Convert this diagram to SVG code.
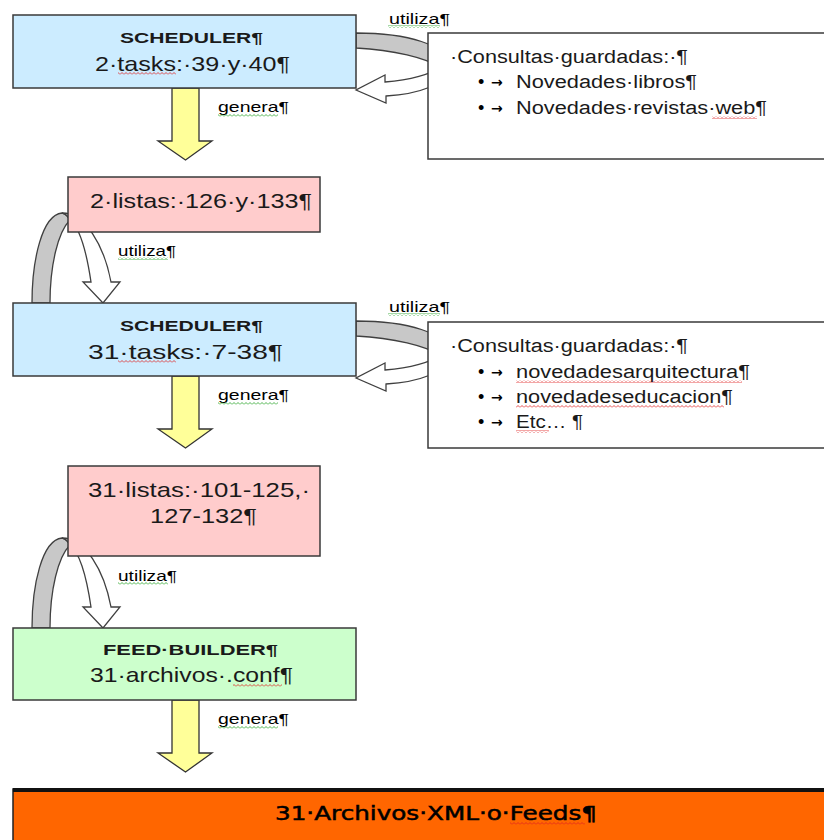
<svg xmlns="http://www.w3.org/2000/svg" width="824" height="840" viewBox="0 0 824 840">
<defs>
<style>
.box{stroke:#3a3a3a;stroke-width:1.5}
.blue{fill:#CCECFF}.pink{fill:#FFCCCC}.green{fill:#CCFFCC}
.t{font-family:"Liberation Sans",Arial,sans-serif;fill:#1a1a1a}
.big{font-size:21px}
.bold{font-size:15px;font-weight:bold}
.q{font-size:18px}
.lbl{font-size:15px;fill:#000}
.bul{font-size:18px;fill:#000}
.arr{font-family:"DejaVu Sans",sans-serif;font-size:14px;font-weight:bold;fill:#000}
.yel{fill:#FFFF99;stroke:#333;stroke-width:1.3}
.gray{fill:#C8C8C8;stroke:#404040;stroke-width:1.3}
.wht{fill:#FFFFFF;stroke:#404040;stroke-width:1.3}
</style>
<pattern id="sqr" width="4" height="3" patternUnits="userSpaceOnUse"><path d="M0 2.5 L2 0.5 L4 2.5" fill="none" stroke="#E02020" stroke-width="0.8"/></pattern>
<pattern id="sqg" width="4" height="3" patternUnits="userSpaceOnUse"><path d="M0 2.5 L2 0.5 L4 2.5" fill="none" stroke="#20A020" stroke-width="0.8"/></pattern>
<g id="curveR">
<path class="gray" d="M356,33 C410,33 446,46 447,62 C447,66 444,68 440,67 C425,58 395,50 356,48 Z"/>
<path class="wht" d="M440,67 C444,68 447,66 447,62 L447,70 C446,84 420,94 386,96 L386,103 L356,90 L385,75 L385,82 C410,80 432,74 440,67 Z"/>
</g>
<g id="loop">
<path class="gray" d="M32,303 C32,260 42,215 62,213 C66,214 68,216 70,220 C58,232 50,265 50,303 Z"/>
<path class="wht" d="M62,213 C85,213 104,245 111,282 L120,282 L103,303 L83,282 L91,282 C87,255 80,228 70,220 C68,216 66,214 62,213 Z"/>
</g>
</defs>
<rect width="824" height="840" fill="#FFFFFF"/>

<g id="connectors">
<polygon class="yel" points="172,88 199,88 199,141 212,141 185.5,160 158,141 172,141"/>
<polygon class="yel" points="172,376 199,376 199,429 212,429 185.5,448 158,429 172,429"/>
<polygon class="yel" points="172,700 199,700 199,753 212,753 185.5,772 158,753 172,753"/>
<use href="#curveR"/>
<use href="#curveR" transform="translate(0,288)"/>
<use href="#loop"/>
<use href="#loop" transform="translate(0,325)"/>
<text class="t lbl" x="389" y="24" textLength="61" lengthAdjust="spacingAndGlyphs">utiliza¶</text>
<rect x="388" y="25" width="52" height="3" fill="url(#sqg)"/>
<text class="t lbl" x="389" y="312" textLength="61" lengthAdjust="spacingAndGlyphs">utiliza¶</text>
<rect x="388" y="313" width="52" height="3" fill="url(#sqg)"/>
<text class="t lbl" x="118" y="256" textLength="58" lengthAdjust="spacingAndGlyphs">utiliza¶</text>
<rect x="118" y="257" width="50" height="3" fill="url(#sqg)"/>
<text class="t lbl" x="118" y="581" textLength="59" lengthAdjust="spacingAndGlyphs">utiliza¶</text>
<rect x="118" y="582" width="50" height="3" fill="url(#sqg)"/>
<text class="t lbl" x="218" y="112" textLength="71" lengthAdjust="spacingAndGlyphs">genera¶</text>
<rect x="218" y="114" width="60" height="3" fill="url(#sqg)"/>
<text class="t lbl" x="218" y="400" textLength="71" lengthAdjust="spacingAndGlyphs">genera¶</text>
<rect x="218" y="402" width="60" height="3" fill="url(#sqg)"/>
<text class="t lbl" x="218" y="724" textLength="71" lengthAdjust="spacingAndGlyphs">genera¶</text>
<rect x="218" y="726" width="60" height="3" fill="url(#sqg)"/>
</g>

<g id="scheduler1">
<rect class="box blue" x="13" y="15" width="343" height="73"/>
<text class="t bold" x="120" y="43" textLength="143" lengthAdjust="spacingAndGlyphs">SCHEDULER¶</text>
<text class="t big" x="95" y="71" textLength="195" lengthAdjust="spacingAndGlyphs">2·tasks:·39·y·40¶</text>
<rect x="118" y="72" width="58" height="3" fill="url(#sqr)"/>
</g>

<g id="consultas1">
<rect class="box" x="428" y="33" width="400" height="126" fill="#FFFFFF"/>
<text class="t q" x="450" y="63" textLength="238" lengthAdjust="spacingAndGlyphs">·Consultas·guardadas:·¶</text>
<text class="t bul" x="478" y="88">•</text><text class="arr" x="491" y="87">→</text>
<text class="t q" x="516" y="88" textLength="181" lengthAdjust="spacingAndGlyphs">Novedades·libros¶</text>
<text class="t bul" x="478" y="114">•</text><text class="arr" x="491" y="113">→</text>
<text class="t q" x="516" y="114" textLength="251" lengthAdjust="spacingAndGlyphs">Novedades·revistas·web¶</text>
<rect x="712" y="116" width="45" height="3" fill="url(#sqr)"/>
</g>

<g id="listas1">
<rect class="box pink" x="68" y="177" width="252" height="55"/>
<text class="t big" x="90" y="208" textLength="222" lengthAdjust="spacingAndGlyphs">2·listas:·126·y·133¶</text>
</g>

<g id="scheduler2">
<rect class="box blue" x="13" y="303" width="343" height="73"/>
<text class="t bold" x="120" y="331" textLength="143" lengthAdjust="spacingAndGlyphs">SCHEDULER¶</text>
<text class="t big" x="88" y="359" textLength="195" lengthAdjust="spacingAndGlyphs">31·tasks:·7-38¶</text>
<rect x="118" y="360" width="58" height="3" fill="url(#sqr)"/>
</g>

<g id="consultas2">
<rect class="box" x="428" y="322" width="400" height="126" fill="#FFFFFF"/>
<text class="t q" x="450" y="352" textLength="238" lengthAdjust="spacingAndGlyphs">·Consultas·guardadas:·¶</text>
<text class="t bul" x="478" y="378">•</text><text class="arr" x="491" y="377">→</text>
<text class="t q" x="516" y="378" textLength="234" lengthAdjust="spacingAndGlyphs">novedadesarquitectura¶</text>
<rect x="516" y="380" width="226" height="3" fill="url(#sqr)"/>
<text class="t bul" x="478" y="403">•</text><text class="arr" x="491" y="402">→</text>
<text class="t q" x="516" y="403" textLength="217" lengthAdjust="spacingAndGlyphs">novedadeseducacion¶</text>
<rect x="516" y="405" width="208" height="3" fill="url(#sqr)"/>
<text class="t bul" x="478" y="428">•</text><text class="arr" x="491" y="427">→</text>
<text class="t q" x="516" y="428" textLength="67" lengthAdjust="spacingAndGlyphs">Etc… ¶</text>
<rect x="516" y="430" width="33" height="3" fill="url(#sqr)"/>
</g>

<g id="listas2">
<rect class="box pink" x="68" y="466" width="252" height="90"/>
<text class="t big" x="88" y="497" textLength="222" lengthAdjust="spacingAndGlyphs">31·listas:·101-125,·</text>
<text class="t big" x="150" y="523" textLength="107" lengthAdjust="spacingAndGlyphs">127-132¶</text>
</g>

<g id="feedbuilder">
<rect class="box green" x="13" y="628" width="343" height="72"/>
<text class="t bold" x="103" y="655" textLength="175" lengthAdjust="spacingAndGlyphs">FEED·BUILDER¶</text>
<text class="t big" x="90" y="682" textLength="203" lengthAdjust="spacingAndGlyphs">31·archivos·.conf¶</text>
<rect x="233" y="684" width="49" height="3" fill="url(#sqr)"/>
</g>

<g id="feeds">
<rect x="13" y="789" width="830" height="70" fill="#FF6600" stroke="#222" stroke-width="1.5"/>
<line x1="13" y1="790" x2="824" y2="790" stroke="#111" stroke-width="4"/>
<text x="275" y="820" font-family="'DejaVu Sans',Verdana,sans-serif" font-size="19" fill="#000" stroke="#000" stroke-width="0.5" textLength="322" lengthAdjust="spacingAndGlyphs">31·Archivos·XML·o·Feeds¶</text>
<rect x="510" y="822" width="75" height="3" fill="url(#sqr)"/>
</g>
</svg>
